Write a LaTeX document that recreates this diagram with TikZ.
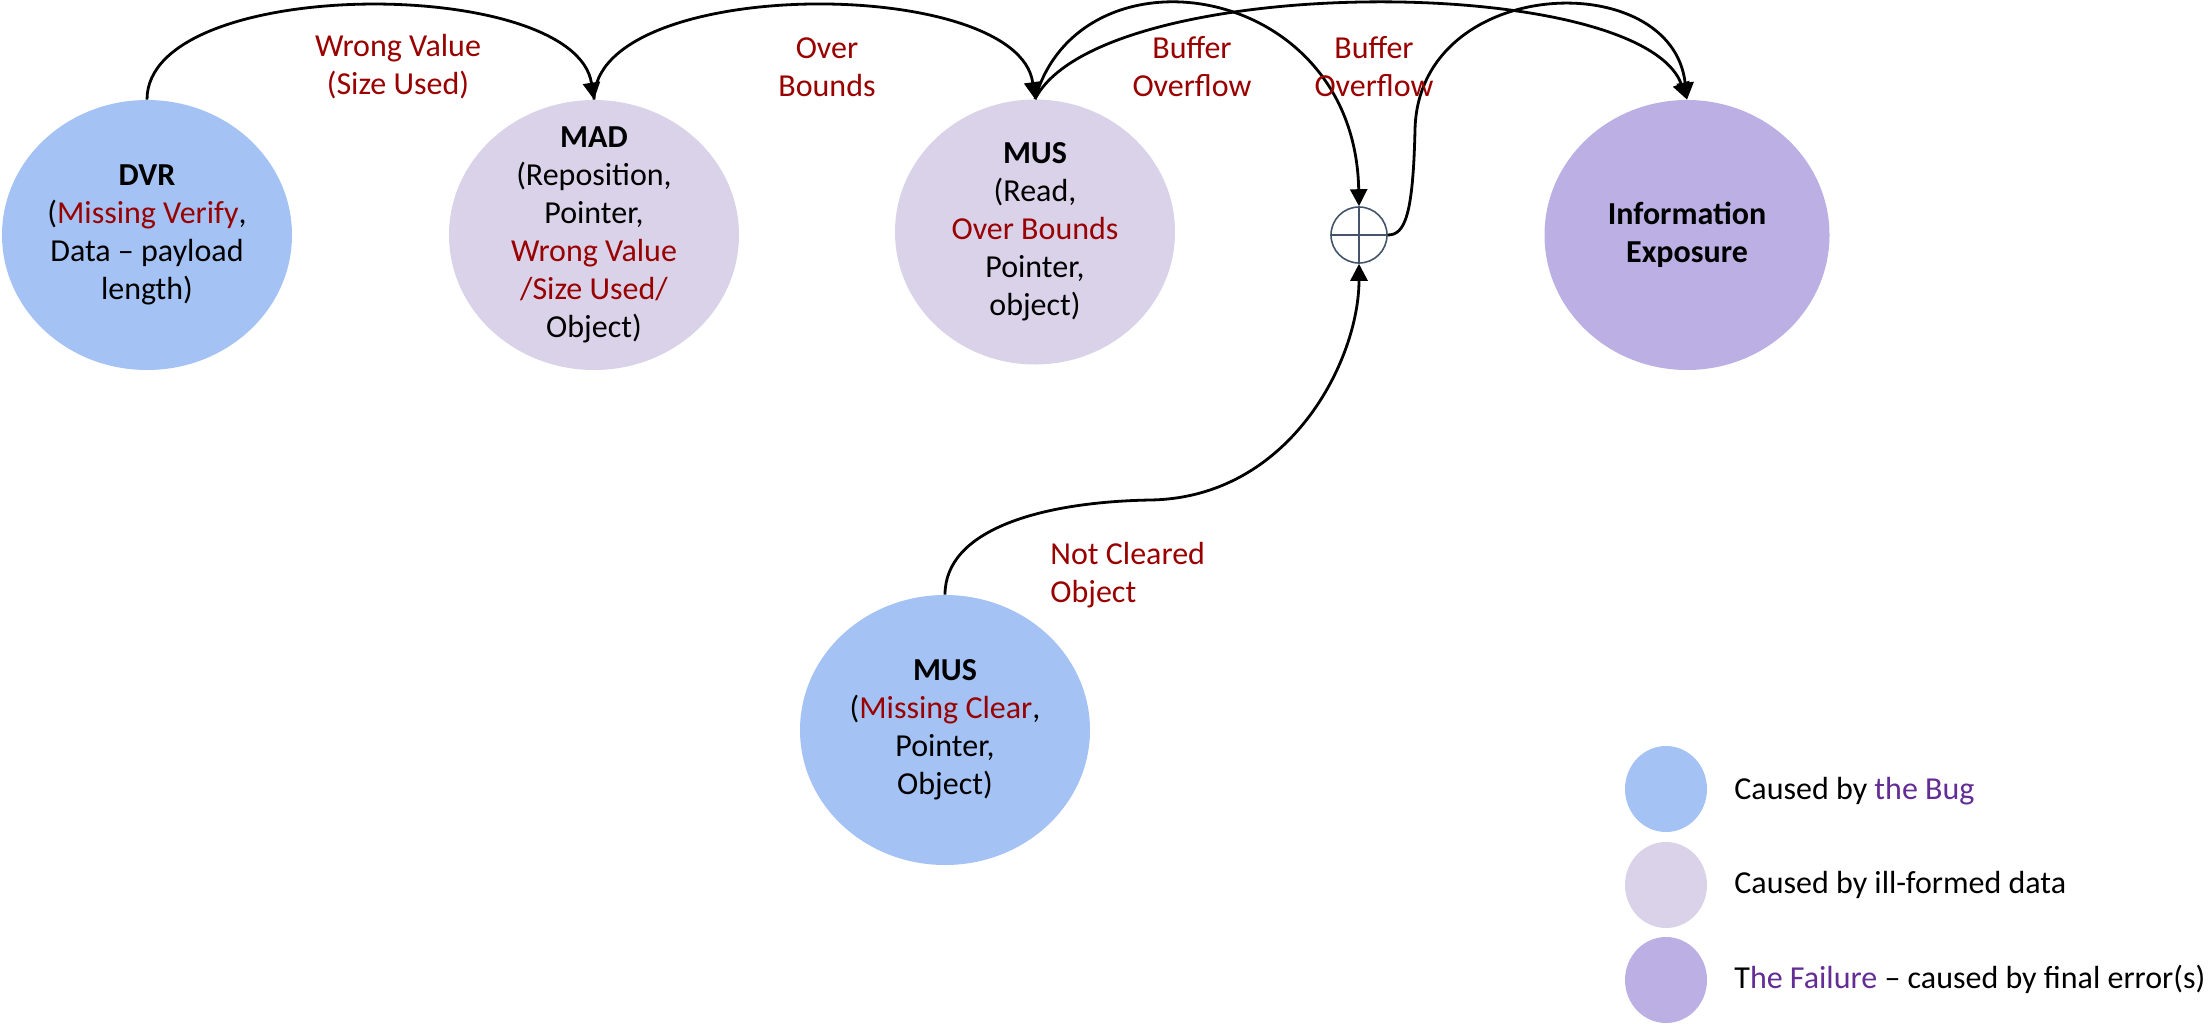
\documentclass[tikz,border=0pt]{standalone}
\usepackage{fontspec}
\setmainfont{Carlito}
\usetikzlibrary{shapes.geometric,arrows.meta}
\definecolor{nblue}{RGB}{164,194,244}
\definecolor{nlav}{RGB}{217,210,233}
\definecolor{npurp}{RGB}{188,175,228}
\definecolor{lred}{RGB}{153,0,0}
\definecolor{lpurp}{RGB}{100,45,150}
\definecolor{opgray}{RGB}{68,84,106}
\begin{document}
\begin{tikzpicture}[x=0.5pt,y=-0.5pt,
  every node/.style={font=\fontsize{16}{19}\selectfont},
  bubble/.style={ellipse,inner sep=0pt,minimum width=145pt,minimum height=135pt},
  legdot/.style={ellipse,inner sep=0pt,minimum width=41pt,minimum height=43pt},
  btext/.style={align=center,inner sep=0pt},
  elabel/.style={align=center,text=lred,inner sep=0pt},
  conn/.style={line width=1.4pt,-{Triangle[length=8.5pt,width=8.5pt]}},
  plain/.style={line width=1.4pt}]
\useasboundingbox (0,0) rectangle (2211,1023);

% bubbles
\node[bubble,fill=nblue] (dvr) at (147,235) {};
\node[btext] (dvrt) at (dvr) {\textbf{DVR}\\(\textcolor{lred}{Missing Verify},\\Data – payload\\length)};
\node[bubble,fill=nlav] (mad) at (594,235) {};
\node[btext] (madt) at (mad) {\textbf{MAD}\\(Reposition,\\Pointer,\\\textcolor{lred}{Wrong Value}\\\textcolor{lred}{/Size Used/}\\Object)};
\node[bubble,fill=nlav,minimum width=140pt,minimum height=132.5pt] (mus) at (1035,232) {};
\node[btext] (must) at (mus) {\textbf{MUS}\\(Read,\\\textcolor{lred}{Over Bounds}\\Pointer,\\object)};
\node[bubble,fill=npurp,minimum width=142.5pt] (ie) at (1687,235) {};
\node[btext] (iet) at (ie) {\textbf{Information}\\\textbf{Exposure}};
\node[bubble,fill=nblue] (mus2) at (945,730) {};
\node[btext] (mus2t) at (mus2) {\textbf{MUS}\\(\textcolor{lred}{Missing Clear},\\Pointer,\\Object)};

% oplus
\node[circle,draw=opgray,line width=0.8pt,minimum size=28pt,inner sep=0pt] (op) at (1359,235) {};
\draw[opgray,line width=0.8pt] (op.north) -- (op.south) (op.west) -- (op.east);

% connectors
\draw[conn] (dvr.north) .. controls (147,-25) and (575,-25) .. (mad.north);
\draw[conn] (mad.north) .. controls (594,-25) and (1018,-25) .. (mus.north);
\draw[conn] (mus.north) .. controls (1080,-60) and (1355,-20) .. (op.north);
\draw[conn] (mus.north) .. controls (1100,-28) and (1640,-28) .. (ie.north);
\draw[conn] (op.east) .. controls (1405,235) and (1413,215) .. (1415,130)
   .. controls (1418,-25) and (1672,-35) .. (ie.north);
\draw[conn] (mus2.north) .. controls (945,530) and (1040,502) .. (1150,500)
   .. controls (1290,498) and (1359,360) .. (op.south);

% edge labels
\node[elabel] (l1) at (398,67) {Wrong Value\\(Size Used)};
\node[elabel] (l2) at (827,67) {Over\\Bounds};
\node[elabel] (l3) at (1192,67) {Buffer\\Overflow};
\node[elabel] (l4) at (1374,67) {Buffer\\Overflow};
\node[elabel,align=left,anchor=west] (l5) at (1050,575) {Not Cleared\\Object};

% legend
\node[legdot,fill=nblue] (g1) at (1666,789) {};
\node[legdot,fill=nlav] (g2) at (1666,885) {};
\node[legdot,fill=npurp] (g3) at (1666,980) {};
\node[anchor=west,inner sep=0pt] (g1t) at (1734,791) {Caused by \textcolor{lpurp}{the Bug}};
\node[anchor=west,inner sep=0pt] (g2t) at (1734,885) {Caused by ill-formed data};
\node[anchor=west,inner sep=0pt] (g3t) at (1734,979) {T\textcolor{lpurp}{he Failure} – caused by final error(s)};
\end{tikzpicture}
\end{document}
